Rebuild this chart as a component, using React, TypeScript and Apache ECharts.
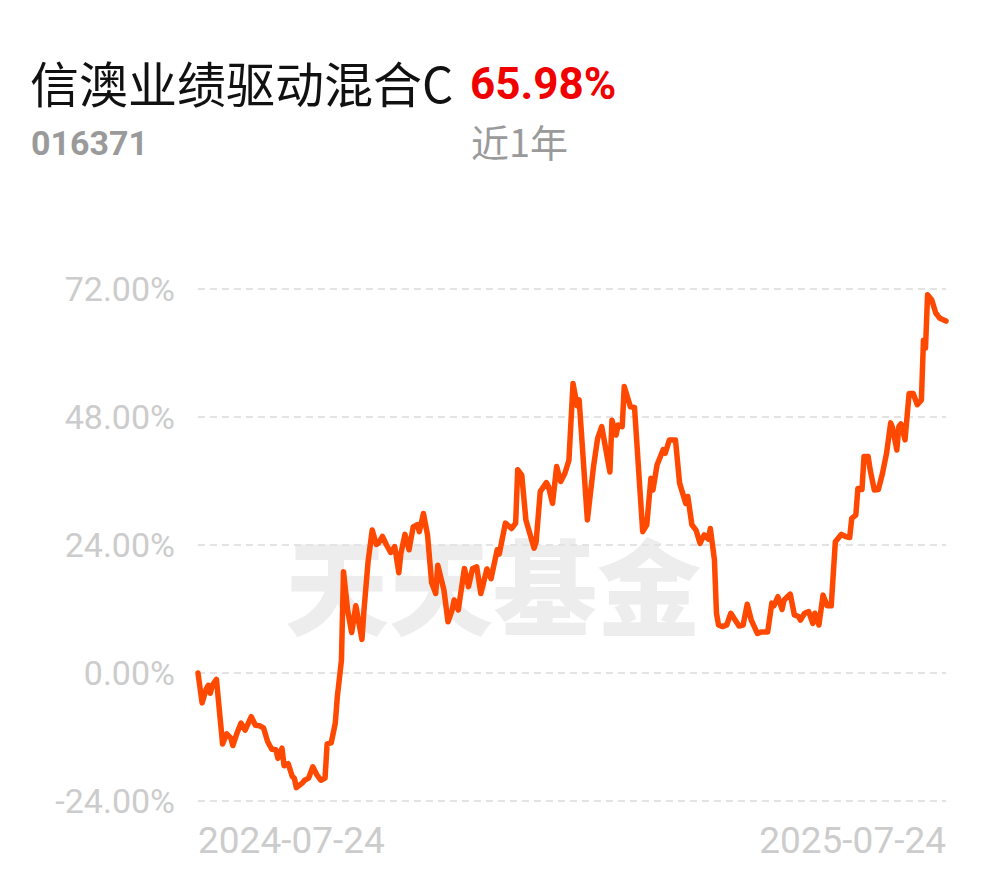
import React, { useEffect, useRef } from "react";
import * as echarts from "echarts";

const fundName = "信澳业绩驱动混合C";
const fundCode = "016371";
const periodReturn = "65.98%";
const periodLabel = "近1年";
const watermark = "天天基金";
const startDate = [2024, 6, 24];
const endOffset = 365;
const yTicks = [-24, 0, 24, 48, 72];

// days since 2024-07-24
const dayOffsets = [0,2,4,5,6,7,9,12,14,16,17,19,21,23,26,28,30,32,34,36,38,39,41,42,44,46,47,48,51,52,54,56,58,60,62,63,65,67,68,70,71,73,75,77,80,81,83,85,87,88,90,92,94,96,98,99,101,103,105,107,108,110,112,114,116,117,120,122,124,125,127,130,132,134,136,138,141,143,146,147,150,153,155,156,158,160,164,165,167,170,171,173,175,177,179,181,183,185,186,190,193,195,197,201,202,204,205,207,208,211,213,217,219,221,222,224,227,228,230,233,235,238,239,241,243,245,247,249,250,252,253,254,256,258,260,264,266,268,270,273,275,278,280,281,283,285,286,289,291,293,294,296,298,300,301,303,305,307,309,311,314,316,318,319,321,322,324,325,327,328,330,332,334,336,338,339,341,342,343,345,347,349,351,353,354,355,356,358,360,362,365];

// cumulative return, %
const returns = [0,-5.6,-3.0,-2.3,-3.8,-2.3,-1.2,-13.3,-11.4,-12.2,-13.6,-11.3,-9.4,-10.7,-8.2,-9.8,-9.9,-10.3,-12.9,-14.3,-14.4,-16.0,-14.1,-17.4,-17.0,-19.4,-19.7,-21.5,-20.6,-20.1,-19.7,-17.6,-19.1,-20.1,-19.7,-13.3,-13.1,-9.4,-4.4,2.4,19.0,11.8,7.6,12.6,6.3,11.8,20.9,26.8,24.1,24.3,25.6,24.0,22.6,23.7,18.8,22.4,26.0,23.1,27.4,27.8,26.5,29.9,25.9,16.9,14.9,20.2,15.6,9.6,11.8,13.7,11.8,19.6,16.2,19.6,19.9,14.9,19.5,17.7,23.1,22.3,28.1,27.1,28.1,38.1,37.1,28.7,23.4,24.6,34.0,35.7,35.0,31.8,38.7,35.9,37.4,39.9,54.3,50.1,51.2,28.7,38.7,44.0,46.2,37.7,47.4,44.6,46.5,46.2,53.7,49.9,49.8,26.5,27.8,36.5,34.3,39.0,41.9,41.2,43.7,43.7,35.6,31.8,33.1,27.8,26.8,24.3,25.9,25.1,27.1,21.2,11.2,9.0,8.7,9.0,11.2,8.8,9.0,12.9,9.9,7.4,7.7,7.7,13.1,12.6,14.3,11.9,13.7,14.8,10.9,10.6,9.9,11.2,11.5,9.3,11.2,9.0,14.6,12.6,12.6,24.6,26.0,25.6,25.4,29.0,29.6,34.6,34.4,40.6,40.6,38.1,34.3,34.4,37.4,41.2,46.9,45.9,41.8,46.2,46.7,43.7,52.4,52.4,50.3,51.2,62.4,60.9,70.9,70.0,67.5,66.5,65.98];

function dayTs(off: number) {
  return new Date(startDate[0], startDate[1], startDate[2] + off).getTime();
}

export default function App() {
  const ref = useRef<HTMLDivElement>(null);
  useEffect(() => {
    document.body.style.margin = "0";
    const chart = echarts.init(ref.current!, null, { renderer: "svg" });
    const n = Math.min(dayOffsets.length, returns.length);
    const data: [number, number][] = [];
    for (let i = 0; i < n; i++) data.push([dayTs(dayOffsets[i]), returns[i]]);
    const minTs = dayTs(0);
    const maxTs = dayTs(endOffset);
    const cjk = "'Noto Sans CJK SC', sans-serif";
    chart.setOption({
      animation: false,
      backgroundColor: "#ffffff",
      grid: { left: 198, right: 44, top: 289, bottom: 77 },
      graphic: [
        {
          type: "text", left: 30, top: 57, z: 10,
          style: { text: fundName, fill: "#111111", font: `400 49px ${cjk}` },
        },
        {
          type: "text", left: 470, top: 62, z: 10,
          style: { text: periodReturn, fill: "#f10000", font: "bold 44px Roboto, 'Liberation Sans', sans-serif" },
        },
        {
          type: "text", left: 31, top: 126, z: 10,
          style: { text: fundCode, fill: "#9a9a9a", font: "bold 34px Roboto, 'Liberation Sans', sans-serif" },
        },
        {
          type: "text", left: 471, top: 121, z: 10,
          style: { text: periodLabel, fill: "#9a9a9a", font: `400 38px ${cjk}` },
        },
        {
          type: "text", left: 285, top: 530, z: -10, silent: true,
          style: { text: watermark, fill: "#ededed", font: `900 104px ${cjk}` },
        },
      ],
      xAxis: {
        type: "time",
        min: minTs,
        max: maxTs,
        axisLine: { show: false },
        axisTick: { show: false },
        splitLine: { show: false },
        axisLabel: {
          customValues: [minTs, maxTs],
          formatter: "{yyyy}-{MM}-{dd}",
          color: "#cccccc",
          fontSize: 37,
          fontFamily: "Roboto, sans-serif",
          margin: 21,
          alignMinLabel: "left",
          alignMaxLabel: "right",
          showMinLabel: true,
          showMaxLabel: true,
        },
      },
      yAxis: {
        type: "value",
        min: yTicks[0],
        max: yTicks[yTicks.length - 1],
        interval: 24,
        axisLine: { show: false },
        axisTick: { show: false },
        axisLabel: {
          formatter: (v: number) => v.toFixed(2) + "%",
          color: "#cccccc",
          fontSize: 34,
          fontFamily: "Roboto, sans-serif",
          margin: 23,
        },
        splitLine: {
          show: true,
          lineStyle: { color: "#e3e3e3", width: 2, type: [7, 5] },
        },
      },
      series: [
        {
          type: "line",
          data,
          showSymbol: false,
          symbol: "none",
          lineStyle: { color: "#ff4800", width: 5.5, join: "round", cap: "round" },
          z: 5,
        },
      ],
    });
    return () => chart.dispose();
  }, []);
  return (
    <div
      ref={ref}
      style={{ position: "fixed", left: 0, top: 0, width: 990, height: 878 }}
    />
  );
}
